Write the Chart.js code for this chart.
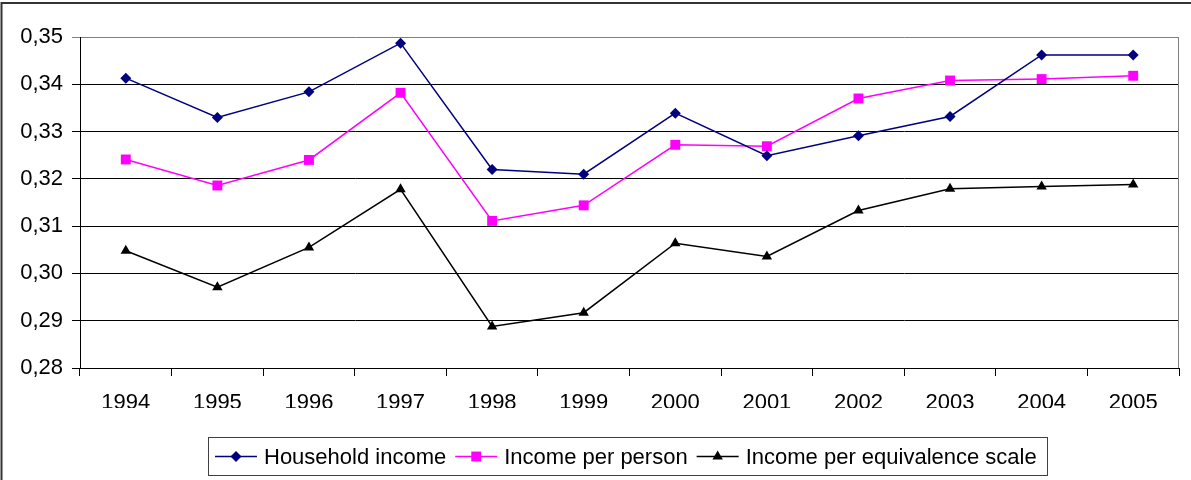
<!DOCTYPE html>
<html>
<head>
<meta charset="utf-8">
<script src="https://cdn.jsdelivr.net/npm/chart.js@4/dist/chart.umd.min.js"></script>
<style>
  html, body { margin: 0; padding: 0; background: #fff; }
  canvas { display: block; }
</style>
</head>
<body>
<canvas id="chart" width="1191" height="480"></canvas>
<script>
// Years on the category axis
const years = ['1994', '1995', '1996', '1997', '1998', '1999', '2000', '2001', '2002', '2003', '2004', '2005'];

// Gini-type coefficients per income concept
const householdIncome = [0.3413, 0.3330, 0.3384, 0.3487, 0.3220, 0.3210, 0.3339, 0.3249, 0.3291, 0.3332, 0.3462, 0.3462];
const incomePerPerson = [0.3241, 0.3186, 0.3240, 0.3382, 0.3111, 0.3144, 0.3272, 0.3269, 0.3370, 0.3408, 0.3411, 0.3418];
const incomePerEquivalenceScale = [0.3048, 0.2971, 0.3055, 0.3178, 0.2888, 0.2917, 0.3064, 0.3036, 0.3133, 0.3179, 0.3184, 0.3188];

const seriesNames = ['Household income', 'Income per person', 'Income per equivalence scale'];

// Value axis ticks
const yTickValues = [0.28, 0.29, 0.30, 0.31, 0.32, 0.33, 0.34, 0.35];

const FONT = "'Liberation Sans', Arial, sans-serif";
Chart.defaults.font.family = FONT;
Chart.defaults.color = '#000';

// White page with a thin frame on the top and left edges
const framePlugin = {
  id: 'frame',
  beforeDraw(chart) {
    const ctx = chart.ctx;
    ctx.save();
    ctx.fillStyle = '#fff';
    ctx.fillRect(0, 0, chart.width, chart.height);
    ctx.restore();
  },
  beforeDatasetsDraw(chart) {
    // right edge of the plot area
    const ctx = chart.ctx, a = chart.chartArea;
    ctx.save();
    ctx.strokeStyle = '#808080';
    ctx.lineWidth = 1;
    ctx.beginPath();
    ctx.moveTo(Math.round(a.right) - 0.5, Math.round(a.top));
    ctx.lineTo(Math.round(a.right) - 0.5, Math.round(a.bottom));
    ctx.stroke();
    ctx.restore();
  },
  afterDraw(chart) {
    const ctx = chart.ctx;
    ctx.save();
    ctx.strokeStyle = '#333';
    ctx.lineWidth = 2;
    ctx.beginPath();
    ctx.moveTo(1.5, chart.height);
    ctx.lineTo(1.5, 3);
    ctx.lineTo(chart.width, 3);
    ctx.stroke();
    ctx.restore();
  }
};

// Boxed legend with a line-and-marker sample for every series
const boxedLegend = {
  id: 'boxedLegend',
  afterDraw(chart) {
    const ctx = chart.ctx;
    const box = { left: 208.5, top: 437.5, right: 1047.5, bottom: 475.5 };
    const cy = (box.top + box.bottom) / 2;
    ctx.save();
    ctx.fillStyle = '#fff';
    ctx.fillRect(box.left, box.top, box.right - box.left, box.bottom - box.top);
    ctx.strokeStyle = '#404040';
    ctx.lineWidth = 1;
    ctx.strokeRect(box.left, box.top, box.right - box.left, box.bottom - box.top);

    ctx.font = '22px ' + FONT;
    ctx.textBaseline = 'middle';
    ctx.textAlign = 'left';
    let x = 215;
    const sampleLen = 42;
    chart.data.datasets.forEach((ds) => {
      ctx.strokeStyle = ds.borderColor;
      ctx.lineWidth = ds.borderWidth;
      ctx.beginPath();
      ctx.moveTo(x, cy);
      ctx.lineTo(x + sampleLen, cy);
      ctx.stroke();
      ctx.fillStyle = ds.pointBackgroundColor;
      ctx.strokeStyle = ds.pointBorderColor;
      Chart.helpers.drawPoint(ctx, {
        pointStyle: ds.pointStyle,
        radius: ds.pointRadius,
        rotation: 0,
        borderWidth: 0
      }, x + sampleLen / 2, cy);
      ctx.fillStyle = '#000';
      const tx = x + sampleLen + 7;
      ctx.fillText(ds.label, tx, cy + 1);
      x = tx + ctx.measureText(ds.label).width + 9;
    });
    ctx.restore();
  }
};

function series(label, data, color, style, radius) {
  return {
    label, data,
    borderColor: color,
    backgroundColor: color,
    borderWidth: 1.5,
    pointStyle: style,
    pointRadius: radius,
    pointHoverRadius: radius,
    pointBackgroundColor: color,
    pointBorderColor: color,
    pointBorderWidth: 0,
    tension: 0,
    fill: false,
    clip: false
  };
}

new Chart(document.getElementById('chart'), {
  type: 'line',
  data: {
    labels: years,
    datasets: [
      series(seriesNames[0], householdIncome, '#000080', 'rectRot', 5.5),
      series(seriesNames[1], incomePerPerson, '#FF00FF', 'rect', 7),
      series(seriesNames[2], incomePerEquivalenceScale, '#000000', 'triangle', 6)
    ]
  },
  options: {
    responsive: false,
    animation: false,
    devicePixelRatio: 1,
    layout: { padding: { left: 0, right: 12, top: 37, bottom: 72 } },
    plugins: {
      legend: { display: false },
      tooltip: { enabled: false },
      title: { display: false }
    },
    scales: {
      x: {
        offset: true,
        grid: {
          offset: true,
          drawOnChartArea: false,
          drawTicks: true,
          tickLength: 8,
          color: '#000',
          lineWidth: 1
        },
        border: { color: '#000', width: 1 },
        ticks: {
          color: '#000',
          font: { size: 22, family: FONT },
          padding: 14,
          maxRotation: 0,
          autoSkip: false
        },
        afterFit(scale) { scale.height = 40; }
      },
      y: {
        min: yTickValues[0],
        max: yTickValues[yTickValues.length - 1],
        afterBuildTicks(scale) {
          scale.ticks = yTickValues.map(v => ({ value: v }));
        },
        grid: {
          color: (c) => (c.tick && c.tick.value >= 0.3499 ? '#808080' : '#000'),
          lineWidth: 1,
          tickLength: 8,
          drawTicks: true
        },
        border: { color: '#000', width: 1 },
        ticks: {
          color: '#000',
          font: { size: 22, family: FONT },
          padding: 9,
          callback: (v) => Number(v).toFixed(2).replace('.', ',')
        },
        afterFit(scale) { scale.width = 80; }
      }
    }
  },
  plugins: [framePlugin, boxedLegend]
});
</script>
</body>
</html>
